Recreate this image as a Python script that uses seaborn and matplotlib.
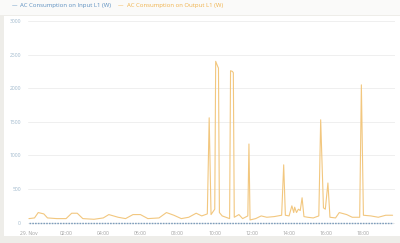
import matplotlib
matplotlib.use("Agg")
import matplotlib.pyplot as plt
import seaborn as sns
import pandas as pd
from matplotlib.patches import Rectangle

# ---- data ----
out_hours = [0.0, 0.3, 0.5, 0.8, 1.0, 1.5, 2.0, 2.3, 2.6, 2.9, 3.5, 4.0, 4.3, 4.8,
             5.2, 5.6, 6.0, 6.4, 7.0, 7.4, 7.8, 8.2, 8.6, 9.0, 9.3, 9.6, 9.7, 9.8,
             10.0, 10.05, 10.15, 10.2, 10.25, 10.4, 10.6, 10.8, 10.85, 10.95, 11.0,
             11.05, 11.3, 11.5, 11.78, 11.84, 11.9, 12.2, 12.5, 12.8, 13.2, 13.6,
             13.71, 13.8, 14.0, 14.15, 14.25, 14.3, 14.4, 14.5, 14.6, 14.7, 14.8,
             15.0, 15.3, 15.6, 15.7, 15.85, 15.95, 16.09, 16.2, 16.5, 16.7, 17.1,
             17.4, 17.8, 17.89, 18.0, 18.4, 18.8, 19.2, 19.57]
out_watts = [60, 70, 150, 130, 70, 60, 60, 140, 140, 60, 50, 70, 120, 80,
             60, 120, 120, 60, 70, 150, 110, 60, 80, 140, 100, 130, 1560, 120,
             200, 2400, 2330, 2300, 150, 100, 80, 60, 2260, 2250, 2230,
             80, 120, 60, 100, 1170, 40, 60, 100, 80, 90, 110,
             860, 110, 100, 250, 150, 230, 150, 200, 180, 370, 90,
             80, 70, 100, 1530, 220, 200, 590, 80, 70, 150, 120,
             80, 80, 2050, 110, 100, 80, 110, 110]
in_hours = [0.0, 19.57]
in_watts = [0, 0]
y_ticks = [0, 500, 1000, 1500, 2000, 2500, 3000]
x_ticks = [0, 2, 4, 6, 8, 10, 12, 14, 16, 18]
x_labels = ["29. Nov", "02:00", "04:00", "06:00", "08:00", "10:00",
            "12:00", "14:00", "16:00", "18:00"]
series_names = ["AC Consumption on Input L1 (W)", "AC Consumption on Output L1 (W)"]

out_df = pd.DataFrame({"hour": out_hours, "watts": out_watts})
in_df = pd.DataFrame({"hour": in_hours, "watts": in_watts})

sns.set_theme(style="white")
plt.rcParams["font.family"] = ["Open Sans", "DejaVu Sans"]

W, H = 400, 243
fig = plt.figure(figsize=(4, 2.43), dpi=100, facecolor="#eeede9")
# panels
fig.patches.append(Rectangle((4 / W, (H - 236) / H), (W - 4) / W, (236 - 16) / H,
                             transform=fig.transFigure, facecolor="white",
                             edgecolor="none", zorder=-5))
fig.patches.append(Rectangle((0, (H - 15) / H), 1, 15 / H,
                             transform=fig.transFigure, facecolor="#fafaf9",
                             edgecolor="none", zorder=-5))

ax = fig.add_axes([28 / W, (H - 226) / H, (395 - 28) / W, (226 - 21) / H])
ax.set_facecolor("none")
ax.set_zorder(2)

blue = "#5b8fc0"
orange = "#f0b24a"

sns.lineplot(data=out_df, x="hour", y="watts", ax=ax, color="#f2c77f", lw=0.8,
             zorder=3)
sns.lineplot(data=in_df, x="hour", y="watts", ax=ax, color="#7d9dbb", lw=1.0,
             linestyle=(0, (1.2, 0.8)), zorder=4)

ax.set_xlim(-0.05, 19.7)
ax.set_ylim(-50, 3000)
ax.set_yticks(y_ticks)
ax.set_yticklabels([str(v) for v in y_ticks], color="#9fb8cc", fontsize=3.6)
ax.set_xticks(x_ticks)
ax.set_xticklabels(x_labels, color="#a0a0a0", fontsize=3.6)
ax.tick_params(axis="y", length=0, pad=5)
ax.tick_params(axis="x", length=2, width=0.5, color="#cccccc", pad=1.5)
ax.grid(axis="y", color="#ececec", lw=0.6)
ax.set_axisbelow(True)
for s in ax.spines.values():
    s.set_visible(False)
ax.set_xlabel("")
ax.set_ylabel("")

# legend
fig.text(12 / W, 1 - 5.7 / H, "—", color=blue, fontsize=4, va="center", ha="left")
fig.text(20 / W, 1 - 5.7 / H, series_names[0], color=blue, fontsize=4.35,
         va="center", ha="left")
fig.text(118 / W, 1 - 5.7 / H, "—", color=orange, fontsize=4, va="center", ha="left")
fig.text(127 / W, 1 - 5.7 / H, series_names[1], color=orange, fontsize=4.35,
         va="center", ha="left")

fig.savefig("out.png", dpi=100, facecolor=fig.get_facecolor())
